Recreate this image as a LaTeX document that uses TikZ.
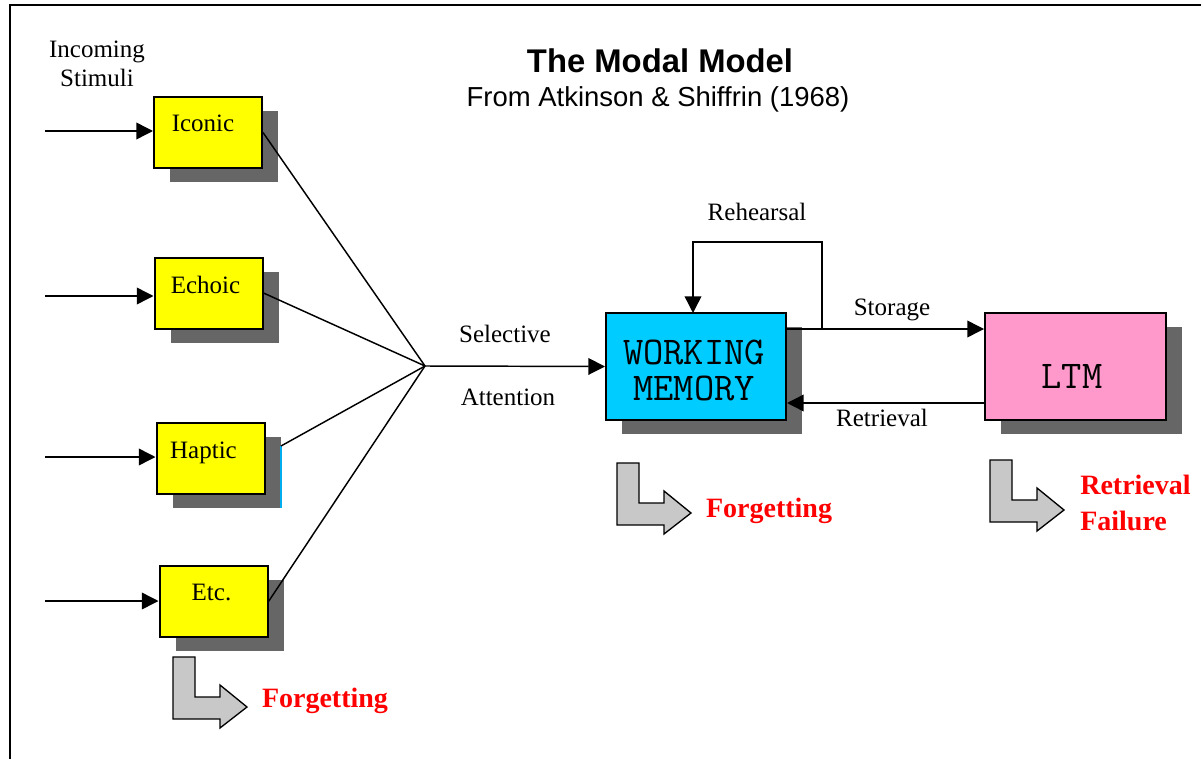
\documentclass[tikz,border=0pt]{standalone}
\usepackage{fontspec}
\setmainfont{Liberation Serif}
\setsansfont{Liberation Sans}
\usetikzlibrary{arrows.meta,shadows,calc}
\definecolor{shade}{HTML}{666666}
\definecolor{iconyellow}{HTML}{FFFF00}
\definecolor{wmcyan}{HTML}{00CCFF}
\definecolor{ltmpink}{HTML}{FF99CC}
\definecolor{bentgray}{HTML}{C8C8C8}
\definecolor{alertred}{HTML}{FF0000}
\tikzset{
  every node/.style={inner sep=0pt},
  storebox/.style={draw=black, line width=1.5pt,
    drop shadow={shadow xshift=12pt, shadow yshift=-10.5pt, fill=shade, opacity=1}},
  sensebox/.style={storebox, fill=iconyellow, minimum width=81pt, minimum height=53.25pt},
  bigbox/.style={storebox, minimum width=135pt, minimum height=80.25pt},
  conn/.style={line width=1.1pt},
  arr/.style={conn, -{Triangle[length=12.5pt,width=12.5pt]}},
  lbl/.style={font=\fontsize{18.75}{22}\selectfont},
  alert/.style={font=\fontsize{21}{27}\selectfont\bfseries, text=alertred},
  memtext/.style={font=\ttfamily\fontsize{29.5}{27}\selectfont, align=center},
  pics/bentarrow/.style={code={
    \draw[fill=bentgray, line width=1pt, line join=miter]
      (0,0) -- (22,0) -- (22,40) -- (47,40) -- (47,28) -- (74,50)
      -- (47,71) -- (47,62) -- (0,62) -- cycle;
  }}
}
\begin{document}
\begin{tikzpicture}[x=0.75pt, y=-0.75pt]
\useasboundingbox (0,0) rectangle (1201,759);

% frame
\draw[line width=1.5pt] (10,759) -- (10,5) -- (1201,5);

% title
\node[font=\sffamily\bfseries\fontsize{24.6}{28}\selectfont] (title) at (660,61) {The Modal Model};
\node[font=\sffamily\fontsize{20.6}{24}\selectfont] (subtitle) at (658,99) {From Atkinson \& Shiffrin (1968)};

% sensory stores
\node[align=center, font=\fontsize{18.75}{21.75}\selectfont] (incoming) at (97,64) {Incoming\\Stimuli};

\node[sensebox] (iconic) at (208,132.5) {};
\node[sensebox] (echoic) at (208.5,293) {};
\node[sensebox] (haptic) at (210.5,458.5) {};
\node[sensebox] (etc) at (213.5,601.5) {};
\draw[cyan, line width=0.8pt] (281,446) -- (281,508);

\node[lbl] (iconictxt) at ($(iconic.center)+(-5,-9)$) {Iconic};
\node[lbl] (echoictxt) at ($(echoic.center)+(-3,-8)$) {Echoic};
\node[lbl] (haptictxt) at ($(haptic.center)+(-7,-6)$) {Haptic};
\node[lbl] (etctxt) at ($(etc.center)+(-2,-9)$) {Etc.};

% incoming stimuli
\coordinate (in1) at (45,131);
\coordinate (in2) at (45,296);
\coordinate (in3) at (45,457);
\coordinate (in4) at (45,601);
\draw[arr] (in1) -- (iconic.west |- in1);
\draw[arr] (in2) -- (echoic.west |- in2);
\draw[arr] (in3) -- (haptic.west |- in3);
\draw[arr] (in4) -- (etc.west |- in4);

% selective attention
\coordinate (focus) at (425,366);
\coordinate (hapticshadow) at (281,446);
\draw[conn] (iconic.east) -- (focus);
\draw[conn] (echoic.east) -- (focus);
\draw[conn] (hapticshadow) -- (focus);
\draw[conn] (etc.east) -- (focus);

% working memory and LTM
\node[bigbox, fill=wmcyan] (wm) at (696,366.5) {};
\node[bigbox, fill=ltmpink, minimum width=135.75pt] (ltm) at (1075.5,366.5) {};
\node[memtext] (wmtxt) at (694,370) {WORKING\\MEMORY};
\node[memtext] (ltmtxt) at (1072,376) {LTM};

\draw[arr] (focus) -- (wm.west);
\node[lbl] (sel) at (505,334) {Selective};
\node[lbl] (att) at (508,397) {Attention};

% storage and rehearsal
\coordinate (st) at ($(wm.north east)+(0,17)$);
\coordinate (rb) at (822,330);
\draw[arr] (st) -- (ltm.west |- st);
\draw[arr] (rb) -- (822,242) -| (693,313);
\node[lbl] (reh) at (757,212) {Rehearsal};
\node[lbl] (sto) at (892,310) {Storage};

% retrieval
\coordinate (rt) at ($(ltm.south west)+(0,-18)$);
\draw[arr] (rt) -- (wm.east |- rt);
\node[lbl] (ret) at (882,418) {Retrieval};

% forgetting
\pic at (173,657) {bentarrow};
\pic at (617,463) {bentarrow};
\pic at (990,460) {bentarrow};
\node[alert] (f1) at (325,701) {Forgetting};
\node[alert] (f2) at (769,511) {Forgetting};
\node[alert, anchor=west, align=left] (f3) at (1080,503) {Retrieval\\Failure};
\end{tikzpicture}
\end{document}
